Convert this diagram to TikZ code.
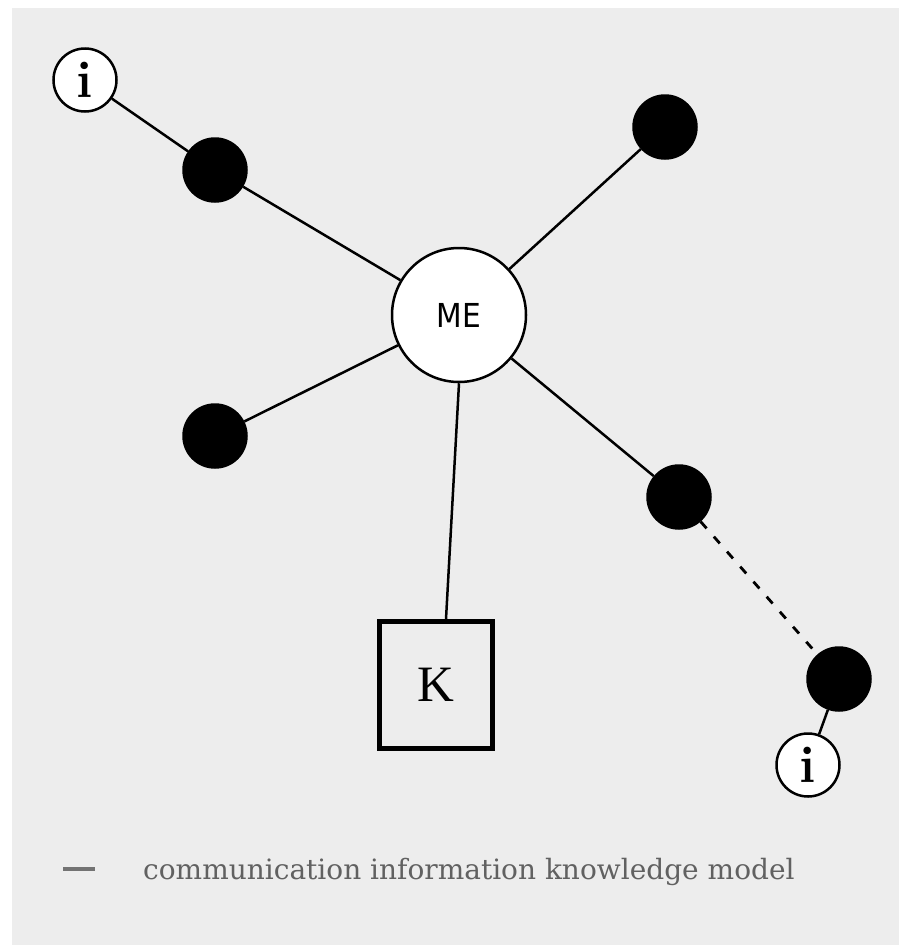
\documentclass[tikz,border=0pt]{standalone}
\usepackage{fontspec}
\newfontfamily\legendfont{DejaVu Serif}
\newfontfamily\mefont{DejaVu Sans}
\newfontfamily\kfont{Liberation Serif}
\begin{document}
\begin{tikzpicture}[x=1pt,y=-1pt,
  dot/.style={circle,fill=black,draw=black,line width=1.5pt,minimum size=64pt,inner sep=0pt},
  info/.style={circle,fill=white,draw=black,line width=2.5pt,minimum size=63pt,inner sep=0pt,font=\fontsize{52}{56}\selectfont\bfseries},
  link/.style={draw=black,line width=2.5pt},
  dlink/.style={draw=black,line width=2.8pt,dash pattern=on 9pt off 11pt}]
\useasboundingbox (0,0) rectangle (899,945);
\fill[white] (0,0) rectangle (899,945);
\fill[black!7] (12,8) rectangle (899,945);
% nodes
\node[info] (i1) at (85,80) {i};
\node[dot] (b1) at (215,170) {};
\node[dot] (b2) at (665,127) {};
\node[circle,fill=white,draw=black,line width=2.5pt,minimum size=134pt,inner sep=0pt,font=\mefont\fontsize{33}{36}\selectfont] (ME) at (459,315) {\scalebox{0.9}[1]{ME}};
\node[dot] (b3) at (215,436) {};
\node[dot] (b4) at (679,497) {};
\node[dot] (b5) at (839,679) {};
\node[info] (i2) at (808,765) {i};
\node[draw=black,line width=5pt,minimum width=113pt,minimum height=127pt,inner sep=0pt,font=\kfont\fontsize{51}{56}\selectfont] (K) at (436,685) {K};
% connectors
\draw[link] (i1) -- (b1);
\draw[link] (b1) -- (ME);
\draw[link] (b2) -- (ME);
\draw[link] (b3) -- (ME);
\draw[link] (b4) -- (ME);
\draw[link] (ME.south) -- ([xshift=10pt]K.north);
\draw[dlink] (b4) -- (b5);
\draw[link] (i2) -- (b5);
% legend
\node[draw=none,inner sep=0pt] (dash) at (79,869) {};
\draw[line width=3.5pt,draw=black!55] ([xshift=-16pt]dash.center) -- ([xshift=16pt]dash.center);
\node[anchor=base west,inner sep=0pt,text=black!62,font=\legendfont\fontsize{28}{32}\selectfont] (legend) at (143,879) {communication information knowledge model};
\end{tikzpicture}
\end{document}
